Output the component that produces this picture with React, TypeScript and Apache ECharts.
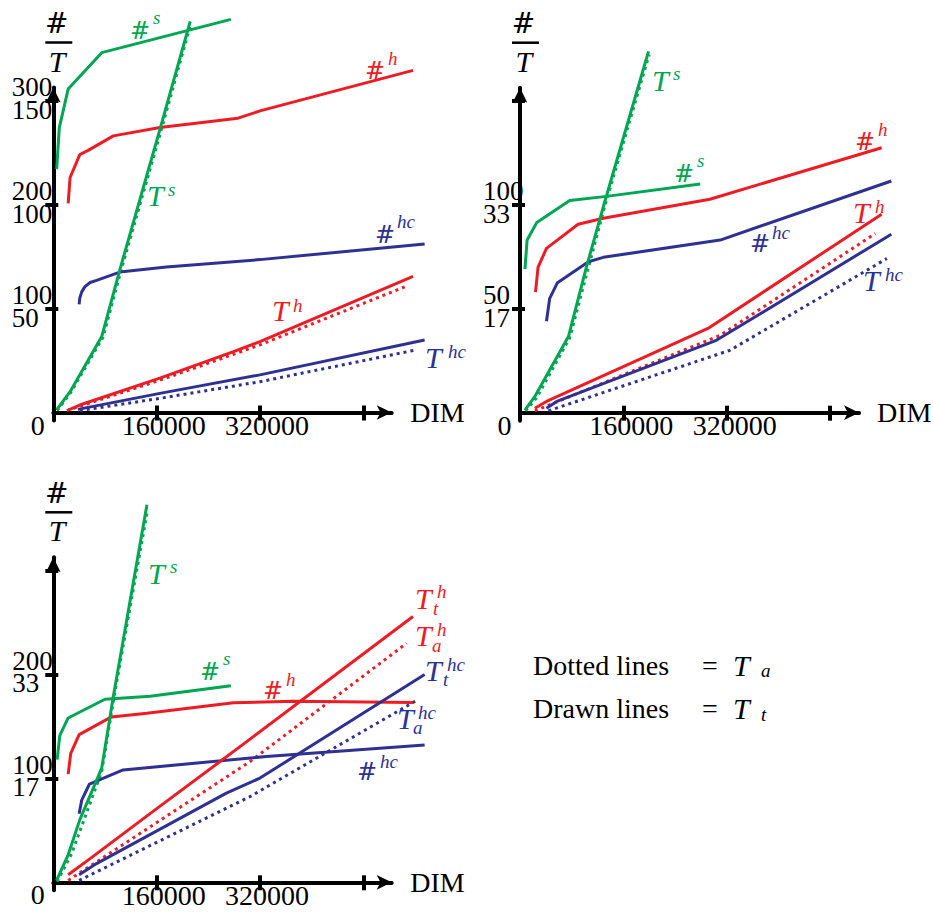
import React, { useEffect, useRef } from 'react';
import * as echarts from 'echarts';

const GREEN = '#00a651';
const RED = '#ed1c24';
const BLUE = '#2e3192';
const SERIF = 'Liberation Serif';
const HASHFONT = 'DejaVu Serif';

// x-axis ticks and labels (DIM)
const xTicks = [160000, 320000, 480000];
const xTickLabels = [160000, 320000];

// ---------- Panel 1 ([DIM, value]) ----------
const p1CountS = [[5200, 234], [9300, 274], [23000, 311], [75000, 346], [275000, 378]];
const p1CountH = [[23000, 201], [26000, 226], [41000, 248], [54000, 252], [93000, 266], [165000, 274], [286000, 283], [320000, 290], [557000, 329]];
const p1CountHC = [[40000, 104], [41000, 110], [44000, 116], [49000, 121], [57000, 125], [67000, 127], [103000, 135], [175000, 140], [320000, 147], [575000, 162]];
const p1TimeS = [[5000, 1.2], [26000, 10], [75000, 36.5], [103000, 68.6], [165000, 136], [212000, 188]];
const p1TimeSa = [[6000, 0.9], [27000, 9.6], [77000, 36.2], [105000, 68.4], [167000, 135.6], [213000, 187]];
const p1TimeH = [[23000, 1.2], [41000, 3.6], [165000, 16.5], [279000, 29.3], [320000, 34.1], [557000, 65.4]];
const p1TimeHa = [[21000, 0.9], [41000, 3.0], [165000, 15.5], [320000, 32.5], [548000, 60.9]];
const p1TimeHC = [[38000, 1.5], [165000, 9.2], [320000, 18.1], [575000, 34.9]];
const p1TimeHCa = [[41000, 0.9], [165000, 6.8], [320000, 14.8], [562000, 30.1]];

// ---------- Panel 2 ----------
const p2CountS = [[7700, 69], [11000, 83], [26000, 91.4], [77000, 102], [134000, 104], [279000, 110]];
const p2CountH = [[24000, 58], [28000, 70], [41000, 79], [90000, 90.6], [129000, 93.5], [294000, 102.6], [560000, 127.4]];
const p2CountHC = [[41000, 44], [46000, 55], [58000, 62.5], [106000, 72.6], [129000, 74.7], [310000, 83], [575000, 111.4]];
const p2TimeS = [[7700, 0.4], [23000, 2.6], [75000, 12.2], [103000, 23.4], [129000, 33], [199000, 57.9]];
const p2TimeSa = [[8700, 0.3], [25800, 2.4], [77000, 12], [106000, 23.3], [131000, 33], [200000, 57.4]];
const p2TimeH = [[23000, 0.7], [41000, 1.8], [291000, 13.5], [560000, 31.8]];
const p2TimeHa = [[23000, 0.3], [310000, 12.4], [550000, 28.7]];
const p2TimeHC = [[41000, 0.7], [57000, 1.8], [304000, 11.6], [575000, 28.6]];
const p2TimeHCa = [[44000, 0.3], [325000, 10.0], [568000, 24.7]];

// ---------- Panel 3 ----------
const p3CountS = [[6000, 118], [10000, 141], [23000, 158], [80000, 176], [150000, 179], [275000, 189]];
const p3CountH = [[23000, 104], [27000, 124], [40000, 142], [90000, 159], [145000, 162.5], [279000, 172.7], [372000, 174], [557000, 173]];
const p3CountHC = [[40000, 66], [44000, 79], [56000, 94.5], [108000, 108], [227000, 115], [330000, 121], [575000, 132]];
const p3TimeS = [[5000, 0.3], [23000, 4.4], [41000, 10], [75000, 18.3], [93000, 29.8], [145000, 60.5]];
const p3TimeSa = [[6000, 0.1], [28500, 4.6], [75000, 17.8], [95000, 30.3], [146000, 59.7]];
const p3TimeH = [[23000, 1.2], [57000, 3.8], [155000, 11.4], [299000, 22.5], [557000, 42.6]];
const p3TimeHa = [[23000, 0.3], [304000, 19.3], [547000, 38.3]];
const p3TimeHC = [[40000, 1.2], [67000, 3.0], [268000, 14.3], [320000, 16.7], [575000, 33.3]];
const p3TimeHCa = [[40000, 0.3], [304000, 13.7], [565000, 29.3]];

// y tick labels: count scale (above tick) and time scale (below tick)
const p1CountLabels = [100, 200, 300];
const p1TimeLabels = [50, 100, 150];
const p2CountLabels = [50, 100];
const p2TimeLabels = [50 / 3, 100 / 3];
const p3CountLabels = [100, 200];
const p3TimeLabels = [50 / 3, 100 / 3];

const panels = [
  { ox: 53.3, oy: 412.5, xMax: 524000, nStep: 100, f: 2, nLabels: p1CountLabels, tLabels: p1TimeLabels, lm: 41.6, xlPad: 14,
    series: [
      [p1CountS, GREEN, 0, false], [p1CountH, RED, 0, false], [p1CountHC, BLUE, 0, false],
      [p1TimeSa, GREEN, 1, true], [p1TimeS, GREEN, 1, false],
      [p1TimeHa, RED, 1, true], [p1TimeH, RED, 1, false],
      [p1TimeHCa, BLUE, 1, true], [p1TimeHC, BLUE, 1, false],
    ] },
  { ox: 520, oy: 412.7, xMax: 525000, nStep: 50, f: 3, nLabels: p2CountLabels, tLabels: p2TimeLabels, lm: 37, xlPad: 16,
    series: [
      [p2CountS, GREEN, 0, false], [p2CountH, RED, 0, false], [p2CountHC, BLUE, 0, false],
      [p2TimeSa, GREEN, 1, true], [p2TimeS, GREEN, 1, false],
      [p2TimeHa, RED, 1, true], [p2TimeH, RED, 1, false],
      [p2TimeHCa, BLUE, 1, true], [p2TimeHC, BLUE, 1, false],
    ] },
  { ox: 53.3, oy: 882.3, xMax: 524000, nStep: 100, f: 6, nLabels: p3CountLabels, tLabels: p3TimeLabels, lm: 41, xlPad: 14,
    series: [
      [p3CountS, GREEN, 0, false], [p3CountH, RED, 0, false], [p3CountHC, BLUE, 0, false],
      [p3TimeSa, GREEN, 1, true], [p3TimeS, GREEN, 1, false],
      [p3TimeHa, RED, 1, true], [p3TimeH, RED, 1, false],
      [p3TimeHCa, BLUE, 1, true], [p3TimeHC, BLUE, 1, false],
    ] },
];

// series annotation pieces: [text, left x, centre y, kind, colour]
const seriesLabels: any[] = [
  ['#', 130, 31, 'H', GREEN], ['s', 153, 17, 's', GREEN],
  ['T', 147, 195, 'T', GREEN], ['s', 168, 189, 's', GREEN],
  ['#', 365, 71, 'H', RED], ['h', 388, 58, 's', RED],
  ['#', 375, 235, 'H', BLUE], ['hc', 397, 221, 's', BLUE],
  ['T', 272, 310, 'T', RED], ['h', 293, 305, 's', RED],
  ['T', 425, 357, 'T', BLUE], ['hc', 448, 351, 's', BLUE],

  ['T', 652, 80, 'T', GREEN], ['s', 673, 73, 's', GREEN],
  ['#', 674, 174, 'H', GREEN], ['s', 697, 160, 's', GREEN],
  ['#', 855, 142, 'H', RED], ['h', 878, 129, 's', RED],
  ['T', 853, 212, 'T', RED], ['h', 875, 206, 's', RED],
  ['#', 750, 244, 'H', BLUE], ['hc', 772, 232, 's', BLUE],
  ['T', 863, 280, 'T', BLUE], ['hc', 885, 274, 's', BLUE],

  ['T', 148, 573, 'T', GREEN], ['s', 170, 566, 's', GREEN],
  ['#', 200, 672, 'H', GREEN], ['s', 223, 658, 's', GREEN],
  ['#', 263, 691, 'H', RED], ['h', 286, 679, 's', RED],
  ['T', 415, 598, 'T', RED], ['h', 437, 591, 's', RED], ['t', 433, 608, 's', RED],
  ['T', 415, 635, 'T', RED], ['h', 437, 629, 's', RED], ['a', 432, 645, 's', RED],
  ['T', 425, 670, 'T', BLUE], ['hc', 447, 664, 's', BLUE], ['t', 443, 679, 's', BLUE],
  ['T', 397, 718, 'T', BLUE], ['hc', 418, 712, 's', BLUE], ['a', 413, 727, 's', BLUE],
  ['#', 357, 772, 'H', BLUE], ['hc', 380, 761, 's', BLUE],

  ['Dotted lines', 533, 665, 'R', '#000'], ['=', 702, 665, 'R', '#000'], ['T', 733, 665, 'T', '#000'], ['a', 761, 670, 's', '#000'],
  ['Drawn lines', 533, 708, 'R', '#000'], ['=', 702, 708, 'R', '#000'], ['T', 733, 708, 'T', '#000'], ['t', 761, 714, 's', '#000'],
];

const PX_PER_DIM = 103.33 / 160000;
const DATA_X_MAX = 620000;

// text placed by its left edge and vertical centre (default top/left alignment)
function textEl(t: string, x: number, cy: number, kind: string, color: string) {
  let fontFamily = SERIF;
  let fontSize = 28;
  let fontStyle = 'normal';
  if (kind === 'H') { fontFamily = HASHFONT; fontSize = 24; }
  else if (kind === 'HT') { fontFamily = HASHFONT; fontSize = 28; }
  else if (kind === 'T') { fontSize = 30; fontStyle = 'italic'; }
  else if (kind === 's') { fontSize = 19; fontStyle = 'italic'; }
  return {
    type: 'text', x, y: cy - fontSize / 2, silent: true, z: 10,
    style: { text: t, fill: color, fontFamily, fontSize, fontStyle, lineHeight: fontSize },
  };
}

function buildOption() {
  const grid: any[] = [];
  const xAxis: any[] = [];
  const yAxis: any[] = [];
  const series: any[] = [];
  const graphic: any[] = [];
  const black = '#000';
  const nP = panels.length;
  panels.forEach((p, i) => {
    const pxPerN = 104 / p.nStep;
    const nMin = -8 / pxPerN;
    const nMax = 325 / pxPerN;
    const nTicks = [1, 2, 3].map((k) => k * p.nStep);
    const tTicks = nTicks.map((v) => v / p.f);
    grid.push({ left: p.ox, top: p.oy - 325, width: p.xMax * PX_PER_DIM, height: 333, containLabel: false, outerBoundsMode: 'none' });
    xAxis.push({
      type: 'value', gridIndex: i, min: 0, max: p.xMax, position: 'bottom',
      axisLine: { show: true, onZero: true, symbol: ['none', 'arrow'], symbolSize: [11, 15], lineStyle: { color: black, width: 4 } },
      axisTick: { show: true, length: 8, customValues: xTicks, lineStyle: { color: black, width: 4 } },
      axisLabel: { show: true, customValues: xTickLabels, formatter: (v: number) => String(v), fontFamily: SERIF, fontSize: 28, color: black, margin: -5, lineHeight: 20, padding: [0, 0, 0, p.xlPad] },
      splitLine: { show: false },
    });
    xAxis.push({
      type: 'value', gridIndex: i, min: 0, max: p.xMax, position: 'bottom',
      axisLine: { show: false, onZero: true },
      axisTick: { show: true, inside: true, length: 7, customValues: xTicks, lineStyle: { color: black, width: 4 } },
      axisLabel: { show: false },
      splitLine: { show: false },
    });
    yAxis.push({
      type: 'value', gridIndex: i, min: nMin, max: nMax, position: 'left',
      axisLine: { show: true, onZero: true, symbol: ['none', 'arrow'], symbolSize: [11, 15], lineStyle: { color: black, width: 4 } },
      axisTick: { show: true, length: 8, customValues: nTicks, lineStyle: { color: black, width: 4 } },
      axisLabel: { show: true, customValues: p.nLabels, formatter: (v: number) => String(Math.round(v)), align: 'left', verticalAlign: 'bottom', lineHeight: 27, margin: p.lm, fontFamily: SERIF, fontSize: 27, color: black },
      splitLine: { show: false },
    });
    yAxis.push({
      type: 'value', gridIndex: i, min: nMin / p.f, max: nMax / p.f, position: 'left',
      axisLine: { show: false, onZero: true },
      axisTick: { show: true, inside: true, length: 5, customValues: tTicks, lineStyle: { color: black, width: 4 } },
      axisLabel: { show: true, customValues: p.tLabels, formatter: (v: number) => String(Math.round(v)), align: 'left', verticalAlign: 'top', lineHeight: 18, margin: p.lm, fontFamily: SERIF, fontSize: 27, color: black },
      splitLine: { show: false },
    });
    const tx = p.ox + 3.5;
    const ty = p.oy - 370;
    graphic.push(textEl('#', tx - 11.7, ty - 19, 'HT', black));
    graphic.push({ type: 'line', silent: true, shape: { x1: p.ox - 8, y1: ty, x2: p.ox + 19, y2: ty }, style: { stroke: black, lineWidth: 2.5 }, z: 10 });
    graphic.push(textEl('T', tx + 1 - 9, ty + 18.5, 'T', black));
    graphic.push(textEl('0', p.ox - 15.5 - 7, p.oy + 12.5, 'R', black));
    graphic.push(textEl('DIM', p.ox + 357, p.oy, 'R', black));
  });
  panels.forEach((p, j) => {
    const gi = nP + j;
    const pxPerN = 104 / p.nStep;
    const topPx = 2;
    const nMax = (p.oy - topPx) / pxPerN;
    const nMin = -8 / pxPerN;
    grid.push({ left: p.ox, top: topPx, width: DATA_X_MAX * PX_PER_DIM, height: p.oy - topPx + 8, containLabel: false, outerBoundsMode: 'none' });
    xAxis.push({ type: 'value', gridIndex: gi, min: 0, max: DATA_X_MAX, show: false, axisLine: { onZero: false }, splitLine: { show: false } });
    yAxis.push({ type: 'value', gridIndex: gi, min: nMin, max: nMax, show: false, axisLine: { onZero: false }, splitLine: { show: false } });
    yAxis.push({ type: 'value', gridIndex: gi, min: nMin / p.f, max: nMax / p.f, show: false, axisLine: { onZero: false }, splitLine: { show: false } });
    p.series.forEach((s: any) => {
      const [data, color, yi, dotted] = s;
      series.push({
        type: 'line', data, xAxisIndex: 2 * nP + j, yAxisIndex: 2 * nP + 2 * j + yi,
        symbol: 'none', clip: false, silent: true, smooth: false,
        lineStyle: { color, width: 3, type: dotted ? [3, 4] : 'solid', cap: 'butt' },
        z: dotted ? 3 : 4,
      });
    });
  });
  seriesLabels.forEach((l) => graphic.push(textEl(l[0], l[1], l[2], l[3], l[4])));
  return {
    animation: false,
    backgroundColor: '#fff',
    textStyle: { fontFamily: SERIF },
    grid, xAxis, yAxis, series, graphic,
  };
}

export default function App() {
  const ref = useRef<HTMLDivElement>(null);
  useEffect(() => {
    if (!ref.current) return;
    const chart = echarts.init(ref.current, null, { renderer: 'svg' });
    chart.setOption(buildOption() as any);
    return () => chart.dispose();
  }, []);
  return (
    <div>
      <div ref={ref} style={{ position: 'absolute', left: 0, top: 0, width: 933, height: 913 }} />
    </div>
  );
}
